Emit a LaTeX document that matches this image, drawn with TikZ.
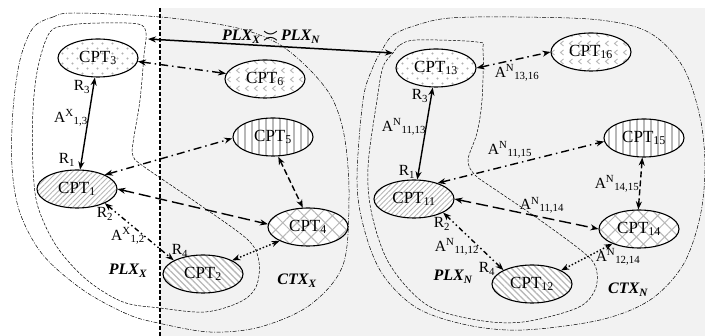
\documentclass[tikz,border=0pt]{standalone}
\usepackage{fontspec}
\setmainfont{Liberation Serif}
\usetikzlibrary{shapes.geometric,patterns,patterns.meta,arrows.meta}
\tikzdeclarepattern{
  name=chev,
  type=uncolored,
  bottom left={(-.1pt,-.1pt)},
  top right={(9.1pt,9.1pt)},
  tile size={(9pt,9pt)},
  code={
    \draw[line width=0.9pt] (5.5pt,2pt) -- (2.5pt,4.5pt) -- (5.5pt,7pt);
  }
}
\tikzdeclarepattern{
  name=dotgrid,
  type=uncolored,
  bottom left={(-.1pt,-.1pt)},
  top right={(10.1pt,10.1pt)},
  tile size={(10pt,10pt)},
  code={
    \fill (2.5pt,2.5pt) circle (1.1pt);
    \fill (7.5pt,7.5pt) circle (1.1pt);
  }
}
\tikzset{
  cpt/.style={ellipse, draw, line width=1.1pt, minimum width=80pt, minimum height=38pt,
    inner sep=0pt, preaction={fill=white}, pattern color=black!28,
    font=\fontsize{17}{20}\selectfont},
  pdots/.style={pattern=dotgrid, pattern color=black!30},
  pchev/.style={pattern=chev},
  pvert/.style={pattern={Lines[angle=90,distance=7pt,line width=1.8pt]}},
  pne/.style={pattern={Lines[angle=45,distance=3.6pt,line width=0.9pt]}},
  pcross/.style={pattern={Hatch[angle=45,distance=10pt,line width=1pt]}},
  pnw/.style={pattern={Lines[angle=-45,distance=4.5pt,line width=1.3pt]}},
  conn/.style={line width=1.4pt, {Stealth[length=8pt,width=6pt,inset=2.5pt]}-{Stealth[length=8pt,width=6pt,inset=2.5pt]}},
  solidc/.style={conn},
  dashdotc/.style={conn, dash pattern=on 8pt off 4pt on 1.5pt off 4pt},
  longdashc/.style={conn, dash pattern=on 12pt off 5pt},
  dashc/.style={conn, dash pattern=on 6pt off 3pt},
  dashdotdotc/.style={conn, dash pattern=on 5pt off 3pt on 1.5pt off 3pt on 1.5pt off 3pt},
  dotc/.style={conn, dash pattern=on 1.5pt off 2pt},
  lab/.style={font=\fontsize{15.5}{18}\selectfont, inner sep=0pt},
  region/.style={font=\fontsize{16}{19}\selectfont\bfseries\itshape, inner sep=0pt},
  plxline/.style={line width=0.5pt, dash pattern=on 3pt off 1.5pt},
  ctxline/.style={line width=0.5pt, dash pattern=on 4pt off 1.5pt on 1pt off 1.5pt},
}
\begin{document}
\begin{tikzpicture}[x=1pt,y=-1pt]
\useasboundingbox (0,0) rectangle (705,336);
% gray background
\fill[black!5] (160,8) rectangle (705,336);
\draw[line width=1.2pt, dash pattern=on 4pt off 2pt] (160,8) -- (160,336);

% contours left
\draw[ctxline] plot[smooth cycle, tension=0.55] coordinates {
 (33,28) (53,17) (75,13) (160,17) (233,27) (277,43) (310,70) (333,100) (345,140)
 (349,198) (343,265) (310,305) (260,327) (210,332) (158,323) (127,314) (83,290)
 (43,255) (20,213) (12,167) (13,110) (20,60)};
\draw[plxline] plot[smooth cycle, tension=0.55] coordinates {
 (50,32) (70,25) (100,23) (138,24) (146,33) (144,55) (140,100) (133,143) (133,156)
 (143,166) (200,205) (248,240) (259,262) (256,287) (240,302) (205,312) (160,308)
 (123,302) (87,280) (57,247) (38,207) (33,167) (33,110) (38,67)};
% contours right
\draw[ctxline] plot[smooth cycle, tension=0.55] coordinates {
 (382,50) (393,35) (417,25) (450,18) (517,17) (600,20) (650,33) (683,67) (700,117)
 (705,167) (700,217) (683,265) (650,300) (600,320) (523,330) (467,325) (417,308)
 (383,275) (365,232) (357,182) (363,100) (373,67)};
\draw[plxline] plot[smooth cycle, tension=0.55] coordinates {
 (393,53) (400,45) (417,40) (477,42) (483,50) (482,100) (477,133) (468,160) (475,175)
 (493,188) (537,218) (583,252) (596,268) (595,290) (577,308) (523,322) (477,320)
 (427,305) (390,265) (372,215) (368,167) (377,100) (383,67)};

% big arrow between regions
\coordinate (plxxc) at (148,39);
\coordinate (plxnc) at (393,53);
\draw[solidc, line width=1.5pt] (plxxc) -- (plxnc);
\node[region] (eqlab) at (271,37) {PLX\textsubscript{X}\,{\boldmath$\asymp$}\,PLX\textsubscript{N}};

% nodes left
\node[cpt,pdots]  (c3) at (98,58)  {CPT\textsubscript{3}};
\node[cpt,pchev]  (c6) at (265,79) {CPT\textsubscript{6}};
\node[cpt,pvert]  (c5) at (273,137) {CPT\textsubscript{5}};
\node[cpt,pne]    (c1) at (77,189) {CPT\textsubscript{1}};
\node[cpt,pcross] (c4) at (308,227) {CPT\textsubscript{4}};
\node[cpt,pnw]    (c2) at (203,274) {CPT\textsubscript{2}};
% nodes right
\node[cpt,pdots]  (c13) at (436,68)  {CPT\textsubscript{13}};
\node[cpt,pchev]  (c16) at (591,52)  {CPT\textsubscript{16}};
\node[cpt,pvert]  (c15) at (644,138) {CPT\textsubscript{15}};
\node[cpt,pne]    (c11) at (414,199) {CPT\textsubscript{11}};
\node[cpt,pcross] (c14) at (639,229) {CPT\textsubscript{14}};
\node[cpt,pnw]    (c12) at (532,284) {CPT\textsubscript{12}};

% connectors left
\draw[solidc] (c1) -- (c3);
\draw[dashdotc] (c3.-5) -- (c6.172);
\draw[dashdotc] (c1.27) -- (c5.182);
\draw[longdashc] (c1.east) -- (c4.176);
\draw[dashc] (c5.-75) -- (c4.105);
\draw[dashdotdotc] (c1.-27) -- (c2.155);
\draw[dotc] (c2.25) -- (c4.206);
% connectors right
\draw[solidc] (c11) -- (c13);
\draw[dashdotc] (c13.east) -- (c16.180);
\draw[dashdotc] (c11.34) -- (c15.185);
\draw[longdashc] (c11.east) -- (c14.west);
\draw[dashc] (c15.-95) -- (c14.92);
\draw[dashdotdotc] (c11.-25) -- (c12.154);
\draw[dotc] (c12.25) -- (c14.209);

% labels left
\node[lab] (r3x) at (82,87) {R\textsubscript{3}};
\node[lab] (r1x) at (67,160) {R\textsubscript{1}};
\node[lab] (a13) at (71,118) {A\textsuperscript{X}\textsubscript{1,3}};
\node[lab] (r2x) at (105,214) {R\textsubscript{2}};
\node[lab] (a12) at (128,236) {A\textsuperscript{X}\textsubscript{1,2}};
\node[lab] (r4x) at (180,251) {R\textsubscript{4}};
\node[region] (plxx) at (128,271) {PLX\textsubscript{X}};
\node[region] (ctxx) at (297,281) {CTX\textsubscript{X}};
% labels right
\node[lab] (r3n) at (420,96) {R\textsubscript{3}};
\node[lab] (a1113) at (404,127) {A\textsuperscript{N}\textsubscript{11,13}};
\node[lab] (r1n) at (407,172) {R\textsubscript{1}};
\node[lab] (a1316) at (517,73) {A\textsuperscript{N}\textsubscript{13,16}};
\node[lab] (a1115) at (510,150) {A\textsuperscript{N}\textsubscript{11,15}};
\node[lab] (a1114) at (542,205) {A\textsuperscript{N}\textsubscript{11,14}};
\node[lab] (a1415) at (617,184) {A\textsuperscript{N}\textsubscript{14,15}};
\node[lab] (r2n) at (442,224) {R\textsubscript{2}};
\node[lab] (a1112) at (457,247) {A\textsuperscript{N}\textsubscript{11,12}};
\node[lab] (r4n) at (487,269) {R\textsubscript{4}};
\node[lab] (a1214) at (618,257) {A\textsuperscript{N}\textsubscript{12,14}};
\node[region] (plxn) at (453,277) {PLX\textsubscript{N}};
\node[region] (ctxn) at (628,290) {CTX\textsubscript{N}};
\end{tikzpicture}
\end{document}
